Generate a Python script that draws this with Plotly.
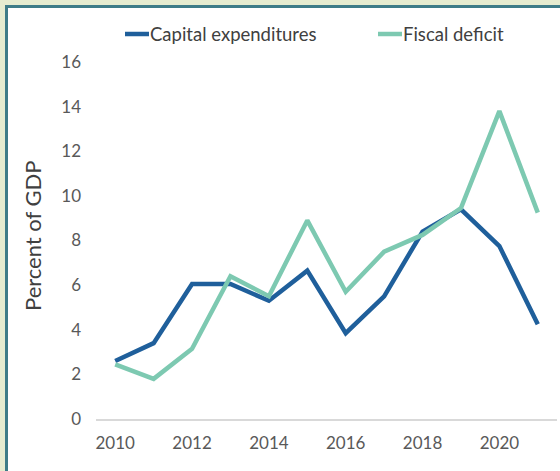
import plotly.graph_objects as go

years = list(range(2010, 2022))
capital_expenditures = [2.6, 3.4, 6.05, 6.05, 5.3, 6.65, 3.85, 5.5, 8.4, 9.4, 7.75, 4.25]
fiscal_deficit = [2.45, 1.8, 3.15, 6.4, 5.5, 8.9, 5.7, 7.5, 8.25, 9.45, 13.8, 9.25]
x_ticks = [2010, 2012, 2014, 2016, 2018, 2020]
y_ticks = [0, 2, 4, 6, 8, 10, 12, 14, 16]

BLUE = "#1f5f9b"
TEAL = "#7dc9b1"
FONT = "Lato, 'Open Sans', sans-serif"

W, H = 560, 471
L, R, T, B = 96, 3, 62, 52
pw, ph = W - L - R, H - T - B


def px_x(px):
    return (px - L) / pw


def px_y(py):
    return (H - B - py) / ph


fig = go.Figure()
fig.add_trace(go.Scatter(x=years, y=capital_expenditures, mode="lines",
                         name="Capital expenditures",
                         line=dict(color=BLUE, width=4.5)))
fig.add_trace(go.Scatter(x=years, y=fiscal_deficit, mode="lines",
                         name="Fiscal deficit",
                         line=dict(color=TEAL, width=4.5)))

shapes = [
    # framed panel
    dict(type="rect", xref="paper", yref="paper", layer="below",
         x0=px_x(6.5), x1=px_x(W + 10), y0=px_y(H + 10), y1=px_y(6.5),
         fillcolor="white", line=dict(color="#3d7c88", width=3)),
]
annotations = [
    dict(text="Percent of GDP", xref="paper", yref="paper",
         x=px_x(32), y=px_y(236), textangle=-90, showarrow=False,
         font=dict(family=FONT, size=22, color="#404040"),
         xanchor="center", yanchor="middle"),
]

# legend entries: short line sample followed by the label
legend_items = [("Capital expenditures", BLUE, 125, 149),
                ("Fiscal deficit", TEAL, 378, 402)]
for label, color, x0, x1 in legend_items:
    shapes.append(dict(type="line", xref="paper", yref="paper",
                       x0=px_x(x0), x1=px_x(x1), y0=px_y(34), y1=px_y(34),
                       line=dict(color=color, width=4.5)))
    annotations.append(dict(text=label, xref="paper", yref="paper",
                            x=px_x(x1 - 1), y=px_y(34), showarrow=False,
                            xanchor="left", yanchor="middle",
                            font=dict(family=FONT, size=18.5, color="#404040")))

fig.update_layout(
    width=W, height=H,
    margin=dict(l=L, r=R, t=T, b=B),
    paper_bgcolor="#e5ecd0",
    plot_bgcolor="white",
    showlegend=False,
    shapes=shapes,
    annotations=annotations,
    xaxis=dict(range=[2009.5, 2021.5], tickvals=x_ticks,
               ticktext=[str(v) for v in x_ticks],
               showgrid=False, zeroline=False, showline=True,
               linecolor="#d9d9d9", linewidth=1.5, ticks="",
               ticklabelstandoff=8,
               tickfont=dict(family=FONT, size=17, color="#595959")),
    yaxis=dict(range=[0, 16], tickvals=y_ticks,
               showgrid=False, zeroline=False, showline=False, ticks="",
               ticklabelstandoff=14,
               tickfont=dict(family=FONT, size=17, color="#595959")),
)

fig.write_html("out.html")
